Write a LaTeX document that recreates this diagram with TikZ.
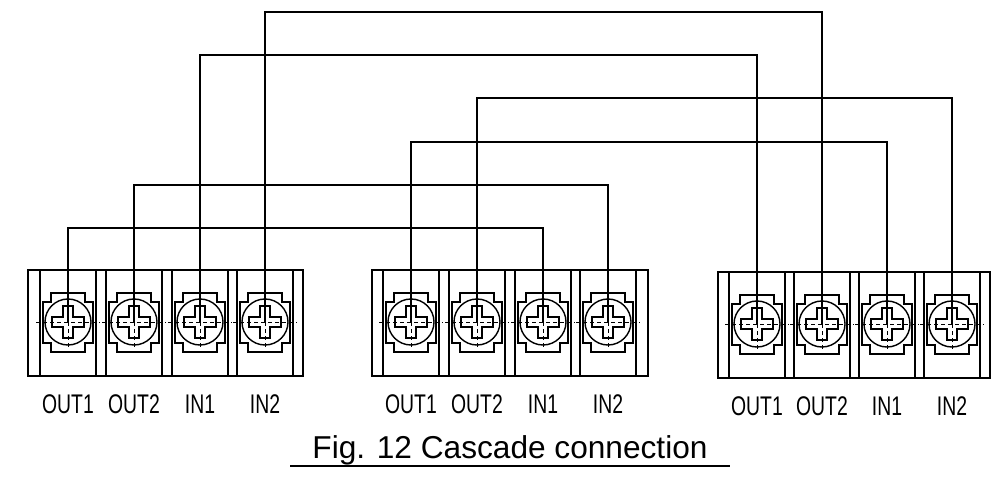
\documentclass[tikz,border=0pt]{standalone}
\usepackage{fontspec}
\setmainfont{Liberation Sans}
\usetikzlibrary{positioning,calc}
\tikzset{
  block/.style={draw, line width=1pt},
  wire/.style={line width=2.5pt},
  lbl/.style={font=\fontsize{23}{23}\selectfont, xscale=0.72},
}
% one screw terminal at (#1,#2), named #3
\newcommand{\screwterm}[3]{
  \coordinate (#3) at (#1,#2);
  \draw[line width=1pt] (#1-28,#2-52) rectangle (#1+28,#2+54);
  \draw[line width=1pt] (#1-25,#2+21) -- (#1-25,#2-20) -- (#1-17,#2-20) -- (#1-17,#2-29)
    -- (#1+17,#2-29) -- (#1+17,#2-20) -- (#1+25,#2-20) -- (#1+25,#2+21) -- (#1+17,#2+21)
    -- (#1+17,#2+30) -- (#1-17,#2+30) -- (#1-17,#2+21) -- cycle;
  \fill[white] (#1,#2) circle (23);
  \draw[line width=1.2pt] (#1,#2) circle (23);
  \draw[line width=1pt] (#1-5,#2-16) -- (#1+5,#2-16) -- (#1+5,#2-5) -- (#1+16,#2-5) -- (#1+16,#2+5)
    -- (#1+5,#2+5) -- (#1+5,#2+16) -- (#1-5,#2+16) -- (#1-5,#2+5) -- (#1-16,#2+5)
    -- (#1-16,#2-5) -- (#1-5,#2-5) -- cycle;
  \draw[dashed, line width=0.4pt] (#1-32,#2) -- (#1+32,#2) (#1,#2-28) -- (#1,#2+28);
}
\begin{document}
\begin{tikzpicture}[x=0.03cm, y=-0.03cm]
  \useasboundingbox (0,0) rectangle (1004,483);

  % Terminal blocks
  \draw[block] (28,270) rectangle (303,376);
  \draw[block] (372,270) rectangle (648,376);
  \draw[block] (718,272) rectangle (990,378);

  \screwterm{68}{322}{ao1} \screwterm{134}{322}{ao2}
  \screwterm{200}{322}{ai1} \screwterm{265}{322}{ai2}
  \screwterm{411}{322}{bo1} \screwterm{477}{322}{bo2}
  \screwterm{543}{322}{bi1} \screwterm{608}{322}{bi2}
  \screwterm{757}{324}{co1} \screwterm{822}{324}{co2}
  \screwterm{887}{324}{ci1} \screwterm{952}{324}{ci2}

  % Labels
  \foreach \t/\x/\y in {OUT1/68/404, OUT2/134/404, IN1/200/404, IN2/265/404,
                         OUT1/411/404, OUT2/477/404, IN1/543/404, IN2/608/404,
                         OUT1/757/406, OUT2/822/406, IN1/887/406, IN2/952/406}
    \node[lbl] at (\x,\y) {\t};

  % Wires
  \draw[wire] (ai2) -- ++(0,-310) -| (co2);
  \draw[wire] (ai1) -- ++(0,-267) -| (co1);
  \draw[wire] (bo2) -- ++(0,-224) -| (ci2);
  \draw[wire] (bo1) -- ++(0,-180) -| (ci1);
  \draw[wire] (ao2) -- ++(0,-137) -| (bi2);
  \draw[wire] (ao1) -- ++(0,-94) -| (bi1);

  % Caption
  \node[font=\fontsize{27}{27}\selectfont] (cap) at (510,450) {Fig. 12 Cascade connection};
  \draw[line width=1.2pt] (290,466) -- (730,466);
\end{tikzpicture}
\end{document}
